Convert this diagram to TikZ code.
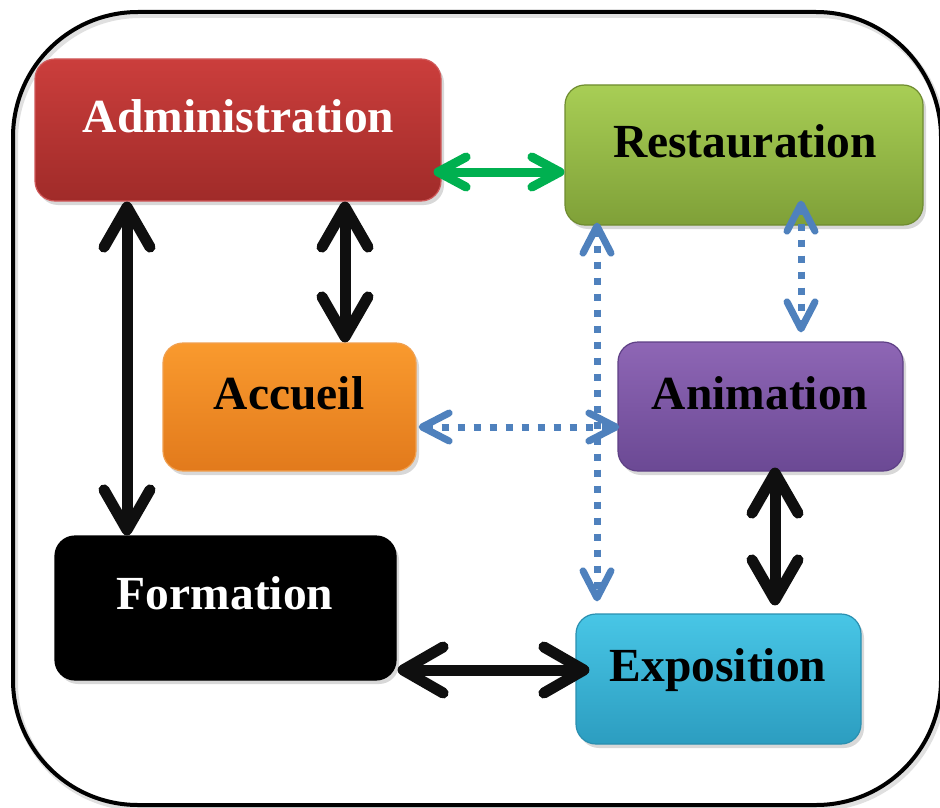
\documentclass[tikz,border=0pt]{standalone}
\usepackage{fontspec}
\setmainfont{Liberation Serif}
\usetikzlibrary{arrows.meta,shadows}
\definecolor{admtop}{HTML}{CB3E3C}
\definecolor{admbot}{HTML}{A02B29}
\definecolor{admbd}{HTML}{D0595A}
\definecolor{resttop}{HTML}{A8CE55}
\definecolor{restbot}{HTML}{7FA038}
\definecolor{restbd}{HTML}{6F8C30}
\definecolor{acctop}{HTML}{F99A2E}
\definecolor{accbot}{HTML}{E27A1C}
\definecolor{accbd}{HTML}{F0A050}
\definecolor{animtop}{HTML}{8E66B5}
\definecolor{animbot}{HTML}{6B4994}
\definecolor{animbd}{HTML}{5E4085}
\definecolor{expotop}{HTML}{48C6E6}
\definecolor{expobot}{HTML}{2C9DC0}
\definecolor{expobd}{HTML}{2A8FB0}
\definecolor{garrowc}{HTML}{00B050}
\definecolor{barrowc}{HTML}{4F81BD}
\definecolor{karrowc}{HTML}{0F0F0F}
\begin{document}
\begin{tikzpicture}[x=1pt,y=-1pt,
  box/.style={rounded corners=20pt, draw, line width=1.2pt, inner sep=0pt,
    drop shadow={shadow xshift=3pt,shadow yshift=-4pt,opacity=0.3}},
  lbl/.style={anchor=base, inner sep=0pt, font=\fontsize{47.5}{57}\selectfont\bfseries},
  blk/.style={draw=karrowc, line width=11pt,
    {Straight Barb[length=40pt,width=46pt,line cap=round,line join=round]}-{Straight Barb[length=40pt,width=46pt,line cap=round,line join=round]}},
  grn/.style={draw=garrowc, line width=9pt,
    {Straight Barb[length=28pt,width=30pt,line cap=round,line join=round]}-{Straight Barb[length=28pt,width=30pt,line cap=round,line join=round]}},
  blu/.style={draw=barrowc, line width=7pt, dash pattern=on 7pt off 9pt,
    {Straight Barb[length=27pt,width=28pt,line cap=round,line join=round]}-{Straight Barb[length=27pt,width=28pt,line cap=round,line join=round]}}
]
\useasboundingbox (0,0) rectangle (940,808);
\clip (0,0) rectangle (940,808);
\fill[white] (0,0) rectangle (940,808);
% outer frame
\draw[line width=6pt, black!12, rounded corners=125pt] (15,15) rectangle (943,808);
\draw[line width=4pt, black, rounded corners=125pt] (13,12) rectangle (941,805);

% boxes
\node[box, draw=admbd, top color=admtop, bottom color=admbot, minimum width=406pt, minimum height=142pt] (adm) at (238,130) {};
\node[box, draw=restbd, top color=resttop, bottom color=restbot, minimum width=358pt, minimum height=140pt] (rest) at (744,155) {};
\node[box, draw=accbd, top color=acctop, bottom color=accbot, minimum width=253pt, minimum height=128pt] (acc) at (289.5,407) {};
\node[box, draw=animbd, top color=animtop, bottom color=animbot, minimum width=285pt, minimum height=129pt] (anim) at (760.5,406.5) {};
\node[box, draw=black, fill=black, minimum width=341pt, minimum height=144pt] (form) at (225.5,608) {};
\node[box, draw=expobd, top color=expotop, bottom color=expobot, minimum width=285pt, minimum height=130pt] (expo) at (718.5,679) {};

% labels
\node[lbl, text=white] (admt) at (238.5,132) {Administration};
\node[lbl, text=black] (restt) at (745,157) {Restauration};
\node[lbl, text=black] (acct) at (289,409) {Accueil};
\node[lbl, text=black] (animt) at (760,409) {Animation};
\node[lbl, text=white] (formt) at (225,609) {Formation};
\node[lbl, text=black] (expot) at (718,681) {Exposition};

% connectors
\draw[grn] ([xshift=-8pt,yshift=-42pt]adm.east) -- ([yshift=-17pt]rest.west);
\draw[blk] ([xshift=-111pt]adm.south) -- ([xshift=-98.5pt]form.north);
\draw[blk] ([xshift=107pt]adm.south) -- ([xshift=55.5pt]acc.north);
\draw[blk] ([xshift=14.5pt,yshift=4pt]anim.south) -- ([xshift=56.5pt,yshift=8pt]expo.north);
\draw[blk] ([xshift=1pt,yshift=-62pt]form.east) -- ([xshift=14pt,yshift=9pt]expo.west);
\draw[blu] ([xshift=-147pt,yshift=3pt]rest.south) -- ([xshift=-121.5pt,yshift=12pt]expo.north);
\draw[blu] ([xshift=57pt,yshift=25pt]rest.south) -- ([xshift=40.5pt,yshift=9pt]anim.north);
\draw[blu] ([xshift=2pt,yshift=-20pt]acc.east) -- ([xshift=2pt,yshift=-20.5pt]anim.west);
\end{tikzpicture}
\end{document}
